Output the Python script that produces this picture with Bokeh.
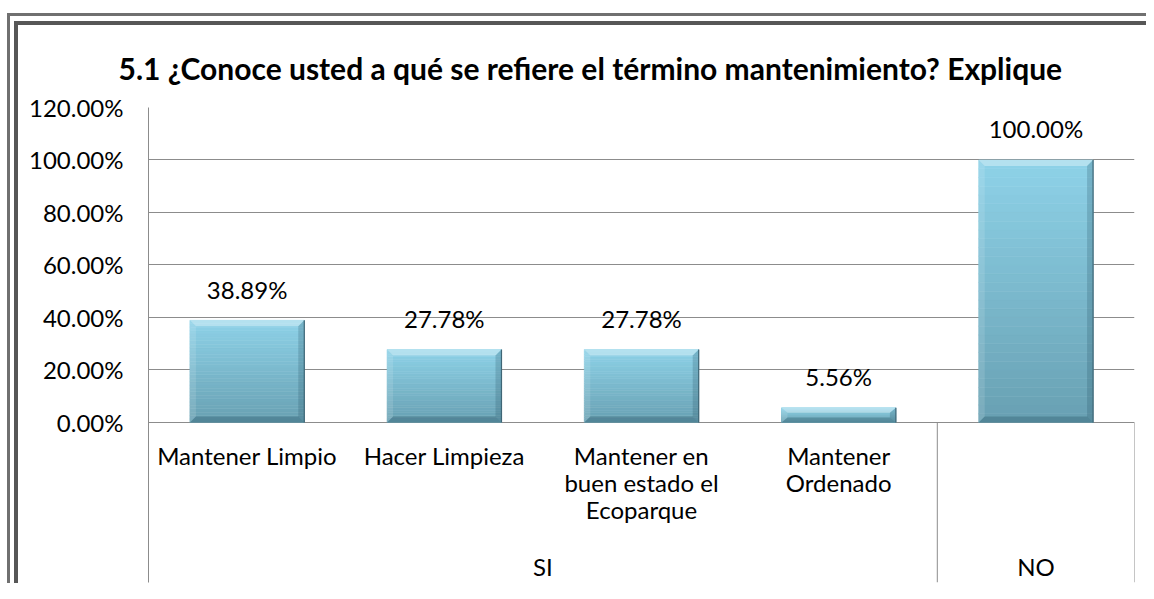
from bokeh.plotting import figure
from bokeh.models import Range1d, FixedTicker, PrintfTickFormatter
from bokeh.embed import file_html
from bokeh.resources import INLINE
from bokeh.core.properties import value

# ---- data ----
groups = ["SI", "SI", "SI", "SI", "NO"]
categories = ["Mantener Limpio", "Hacer Limpieza", "Mantener en\nbuen estado el\nEcoparque",
              "Mantener\nOrdenado", ""]
percent = [38.89, 27.78, 27.78, 5.56, 100.00]
y_ticks = [0, 20, 40, 60, 80, 100, 120]
title_text = "5.1  ¿Conoce usted  a qué se refiere el  término mantenimiento? Explique"

# ---- layout / style ----
FONT = "Lato"
n = len(percent)
W, H = 1146, 583
BL, BR, BT, BB = 148, 12, 107, 1
y_lo, y_hi = -61, 120
bar_w = 0.58

# double chart border drawn as CSS background layers behind a transparent canvas
line_layers = [
    ("#707070", "7px 13px", "3px 700px"),
    ("#707070", "7px 13px", "1300px 3px"),
    ("#575757", "14px 21px", "4px 700px"),
    ("#575757", "14px 21px", "1300px 4px"),
]
styles = {
    "background-color": "white",
    "background-image": ", ".join("linear-gradient(%s, %s)" % (c, c) for c, _, _ in line_layers),
    "background-position": ", ".join(pos for _, pos, _ in line_layers),
    "background-size": ", ".join(sz for _, _, sz in line_layers),
    "background-repeat": "no-repeat, no-repeat, no-repeat, no-repeat",
}

p = figure(width=W, height=H, output_backend="svg", toolbar_location=None, tools="",
           x_range=Range1d(0, n), y_range=Range1d(y_lo, y_hi), x_axis_location=None,
           min_border_left=BL, min_border_right=BR, min_border_top=BT, min_border_bottom=BB,
           styles=styles)
p.outline_line_color = None
p.outline_line_alpha = 0
p.background_fill_color = "white"
p.border_fill_color = None
p.xgrid.visible = False
p.ygrid.ticker = FixedTicker(ticks=y_ticks)
p.ygrid.grid_line_color = "#8c8c8c"
p.ygrid.grid_line_width = 1

yax = p.yaxis[0]
yax.ticker = FixedTicker(ticks=y_ticks)
yax.formatter = PrintfTickFormatter(format="%.2f%%")
yax.major_tick_out = 0
yax.major_tick_in = 0
yax.minor_tick_out = 0
yax.minor_tick_in = 0
yax.axis_line_color = "#8c8c8c"
yax.major_label_standoff = 25
yax.major_label_text_font = FONT
yax.major_label_text_font_size = "24px"
yax.major_label_text_color = "black"

p.title.text = title_text
p.title.text_font = FONT
p.title.text_font_size = "30px"
p.title.text_font_style = "bold"
p.title.text_color = "black"
p.title.align = "left"
p.title.offset = -30
p.title.standoff = 44

# pixel scales for bevel
fx = (W - BL - BR) / n
fy = (H - BT - BB) / (y_hi - y_lo)

centers = [i + 0.5 for i in range(n)]

# gradient bands
NB = 30
c_top = (142, 210, 232)
c_bot = (104, 160, 178)
bx, bb, bt, bc = [], [], [], []
for c, v in zip(centers, percent):
    for k in range(NB):
        t = (k + 0.5) / NB
        col = tuple(int(round(c_bot[j] + (c_top[j] - c_bot[j]) * t)) for j in range(3))
        bx.append(c)
        bb.append(v * k / NB)
        bt.append(v * (k + 1) / NB)
        bc.append("#%02x%02x%02x" % col)
p.vbar(x=bx, bottom=bb, top=bt, width=bar_w, fill_color=bc, line_color=bc, line_width=0.6)

# bevel overlays
dx = 6 / fx
top_x, top_y, lf_x, lf_y, rt_x, rt_y, bo_x, bo_y = [], [], [], [], [], [], [], []
for c, v in zip(centers, percent):
    L, R = c - bar_w / 2, c + bar_w / 2
    dy = min(6 / fy, v / 3)
    top_x.append([L, R, R - dx, L + dx]); top_y.append([v, v, v - dy, v - dy])
    lf_x.append([L, L + dx, L + dx, L]); lf_y.append([v, v - dy, dy, 0])
    rt_x.append([R, R - dx, R - dx, R]); rt_y.append([v, v - dy, dy, 0])
    bo_x.append([L, R, R - dx, L + dx]); bo_y.append([0, 0, dy, dy])
p.patches(top_x, top_y, fill_color="white", fill_alpha=0.35, line_color=None)
p.patches(lf_x, lf_y, fill_color="white", fill_alpha=0.12, line_color=None)
p.patches(rt_x, rt_y, fill_color="#1f4a5a", fill_alpha=0.22, line_color=None)
p.patches(bo_x, bo_y, fill_color="#1f4a5a", fill_alpha=0.30, line_color=None)
p.segment(x0=[c + bar_w / 2 for c in centers], y0=[0] * n,
          x1=[c + bar_w / 2 for c in centers], y1=percent,
          line_color="#3f6676", line_width=1.2)

# data labels
p.text(x=centers, y=percent, text=["%.2f%%" % v for v in percent],
       text_align="center", text_baseline="alphabetic", y_offset=-31,
       text_font=value(FONT), text_font_size="24px", text_color="black")

# category labels
p.text(x=centers, y=[0] * n, text=categories, text_align="center", text_baseline="top",
       y_offset=19, text_font=value(FONT), text_font_size="24px", text_color="black",
       text_line_height=0.92)

# group labels and separators
group_names, group_pos, bounds = [], [], []
start = 0
for i in range(1, n + 1):
    if i == n or groups[i] != groups[start]:
        group_names.append(groups[start])
        group_pos.append((start + i) / 2)
        bounds.append(i)
        start = i
p.text(x=group_pos, y=[0] * len(group_pos), text=group_names, text_align="center",
       text_baseline="middle", y_offset=144, text_font=value(FONT), text_font_size="24px",
       text_color="black")
p.segment(x0=bounds, y0=[0] * len(bounds), x1=bounds, y1=[y_lo] * len(bounds),
          line_color="#8c8c8c", line_width=1)

open("out.html", "w").write(file_html(p, INLINE))
